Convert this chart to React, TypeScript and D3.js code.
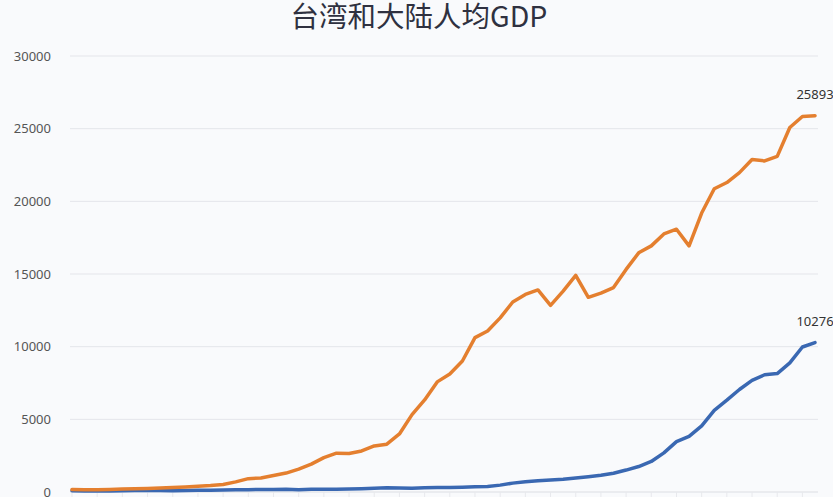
import React from "react";
import * as d3 from "d3";

const years: number[] = [
  1960, 1961, 1962, 1963, 1964, 1965, 1966, 1967, 1968, 1969,
  1970, 1971, 1972, 1973, 1974, 1975, 1976, 1977, 1978, 1979,
  1980, 1981, 1982, 1983, 1984, 1985, 1986, 1987, 1988, 1989,
  1990, 1991, 1992, 1993, 1994, 1995, 1996, 1997, 1998, 1999,
  2000, 2001, 2002, 2003, 2004, 2005, 2006, 2007, 2008, 2009,
  2010, 2011, 2012, 2013, 2014, 2015, 2016, 2017, 2018, 2019,
];

const taiwan: number[] = [
  164, 153, 162, 178, 203, 217, 237, 267, 304, 345,
  389, 443, 522, 695, 920, 964, 1132, 1301, 1577, 1920,
  2367, 2669, 2653, 2823, 3167, 3290, 3993, 5325, 6333, 7577,
  8124, 9016, 10625, 11079, 11982, 13076, 13597, 13904, 12840, 13819,
  14908, 13397, 13686, 14066, 15317, 16456, 16934, 17757, 18081, 16933,
  19197, 20866, 21295, 21973, 22874, 22780, 23091, 25080, 25838, 25893,
];

const mainland: number[] = [
  90, 76, 70, 74, 85, 98, 104, 97, 91, 100,
  113, 119, 132, 157, 160, 178, 165, 185, 156, 184,
  195, 197, 203, 225, 251, 294, 282, 252, 284, 311,
  318, 333, 366, 377, 473, 610, 709, 782, 829, 873,
  959, 1053, 1149, 1289, 1509, 1753, 2099, 2694, 3468, 3832,
  4550, 5618, 6317, 7051, 7679, 8067, 8148, 8879, 9977, 10276,
];

const yTicks: number[] = [0, 5000, 10000, 15000, 20000, 25000, 30000];
const title = "台湾和大陆人均GDP";

const W = 833;
const H = 497;

export default function App() {
  const x = d3.scaleLinear().domain([1960, 2019]).range([72, 815]);
  const y = d3.scaleLinear().domain([0, 30000]).range([492, 56]);

  const line = d3
    .line<number>()
    .x((_, i) => x(years[i]))
    .y((d) => y(d))
    .curve(d3.curveLinear);

  const lastIdx = years.length - 1;

  return (
    <svg
      width={W}
      height={H}
      style={{ position: "absolute", left: 0, top: 0, background: "#f9fafc" }}
    >
      <rect x={0} y={0} width={W} height={H} fill="#f9fafc" />
      <text
        x={419}
        y={27}
        textAnchor="middle"
        fontSize={28.5}
        fontWeight={400}
        fontFamily="'Noto Sans CJK SC', 'Noto Sans', sans-serif"
        fill="#2f3140"
      >
        {title}
      </text>
      {yTicks.map((t) => (
        <g key={t}>
          {t > 0 && (
            <line x1={70} x2={818} y1={y(t)} y2={y(t)} stroke="#e4e5ea" strokeWidth={1} />
          )}
          <text
            x={51}
            y={y(t)}
            dy="0.35em"
            textAnchor="end"
            fontSize={13}
            fontFamily="'Noto Sans', 'Open Sans', sans-serif"
            fill="#555"
          >
            {t}
          </text>
        </g>
      ))}
      <line x1={70} x2={818} y1={y(0)} y2={y(0)} stroke="#dcdee3" strokeWidth={1} />
      {years.filter((yr) => yr % 2 === 0).map((yr) => (
        <line key={yr} x1={x(yr)} x2={x(yr)} y1={y(0)} y2={y(0) + 5} stroke="#e8e9ed" strokeWidth={1} />
      ))}
      <path
        d={line(mainland) || ""}
        fill="none"
        stroke="#3a68b2"
        strokeWidth={3.5}
        strokeLinejoin="round"
        strokeLinecap="round"
      />
      <path
        d={line(taiwan) || ""}
        fill="none"
        stroke="#e47f2f"
        strokeWidth={3.5}
        strokeLinejoin="round"
        strokeLinecap="round"
      />
      <text
        x={x(years[lastIdx])}
        y={y(taiwan[lastIdx]) - 17}
        textAnchor="middle"
        fontSize={13}
        fontFamily="'Noto Sans', 'Open Sans', sans-serif"
        fill="#333"
      >
        {taiwan[lastIdx]}
      </text>
      <text
        x={x(years[lastIdx])}
        y={y(mainland[lastIdx]) - 17}
        textAnchor="middle"
        fontSize={13}
        fontFamily="'Noto Sans', 'Open Sans', sans-serif"
        fill="#333"
      >
        {mainland[lastIdx]}
      </text>
    </svg>
  );
}
